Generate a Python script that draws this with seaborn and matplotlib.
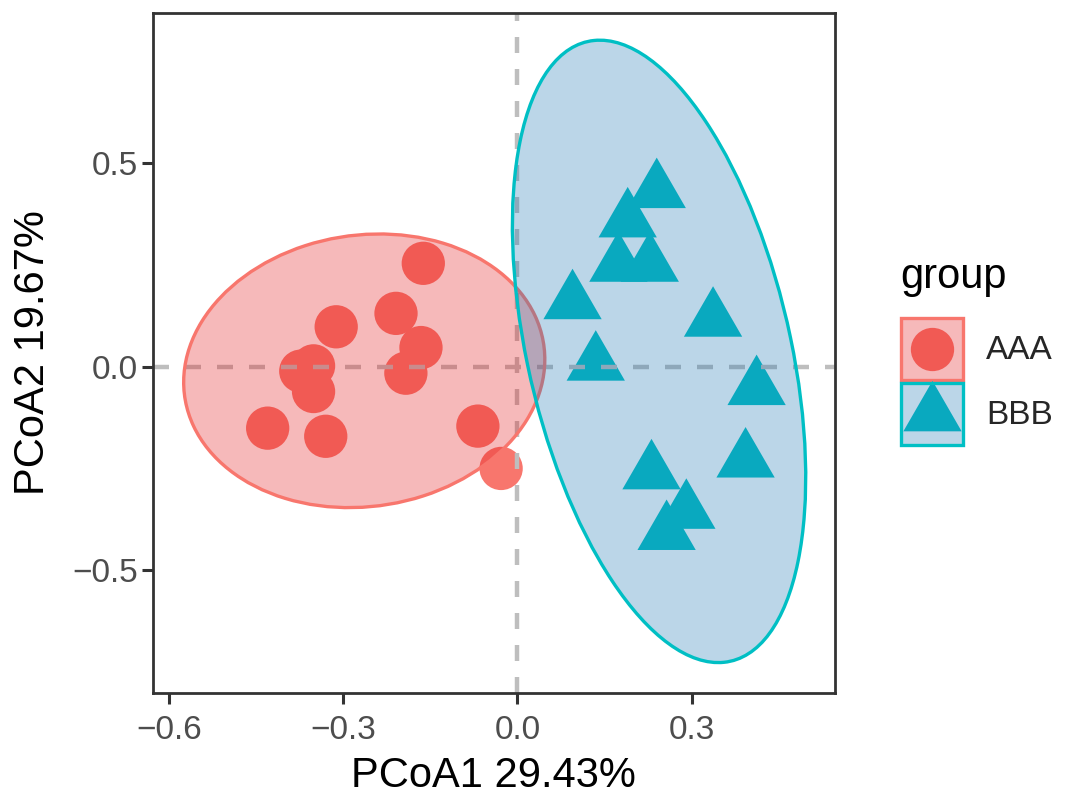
import numpy as np
import pandas as pd
import matplotlib
matplotlib.use("Agg")
import matplotlib.pyplot as plt
import seaborn as sns
from matplotlib.patches import Ellipse, Rectangle
from matplotlib.lines import Line2D
from matplotlib.legend_handler import HandlerBase

# ---------------- data ----------------
groups = ["AAA", "BBB"]

aaa_x = [-0.162, -0.209, -0.312, -0.166, -0.351, -0.373, -0.192, -0.351, -0.430, -0.330, -0.068, -0.028]
aaa_y = [0.254, 0.131, 0.098, 0.047, 0.002, -0.011, -0.016, -0.061, -0.151, -0.171, -0.146, -0.250]

bbb_x = [0.240, 0.190, 0.174, 0.228, 0.095, 0.337, 0.135, 0.412, 0.393, 0.231, 0.291, 0.257]
bbb_y = [0.431, 0.359, 0.250, 0.250, 0.158, 0.115, 0.007, -0.053, -0.231, -0.260, -0.357, -0.409]

# 95% ellipse (stat_ellipse) shape: centre and scaled covariance per group
ell_cx = [-0.2637, 0.244]
ell_cy = [-0.0101, 0.0376]
ell_sxx = [0.0967, 0.0638]
ell_syy = [0.1130, 0.5846]
ell_sxy = [0.0087, -0.078]

x_ticks = [-0.6, -0.3, 0.0, 0.3]
y_ticks = [-0.5, 0.0, 0.5]
x_label = "PCoA1 29.43%"
y_label = "PCoA2 19.67%"
legend_title = "group"

point_colors = {"AAA": "#F8766D", "BBB": "#00BFC4"}
fill_colors = {"AAA": "#E31A1C", "BBB": "#1F78B4"}
fill_alpha = 0.3

# ---------------- styling ----------------
sns.set_theme(style="white")
plt.rcParams["font.family"] = ["Liberation Sans", "DejaVu Sans"]
plt.rcParams["axes.unicode_minus"] = True

W, H = 1080, 808
fig = plt.figure(figsize=(W / 100, H / 100), dpi=100)
fig.patch.set_facecolor("white")
ax = fig.add_axes([152.7 / W, 1 - 692.7 / H, (835 - 152.7) / W, (692.7 - 13) / H])
ax.set_facecolor("white")

df = pd.DataFrame({
    "x": aaa_x + bbb_x,
    "y": aaa_y + bbb_y,
    "group": ["AAA"] * len(aaa_x) + ["BBB"] * len(bbb_x),
})

tri = [(0.0, 1.0), (-0.8660254, -0.5), (0.8660254, -0.5), (0.0, 1.0)]
markers = {"AAA": "o", "BBB": tri}
sizes = {"AAA": 972, "BBB": 2350}

sns.scatterplot(data=df, x="x", y="y", hue="group", style="group", size="group",
                palette=point_colors, markers=markers, sizes=sizes,
                hue_order=groups, style_order=groups, size_order=groups,
                linewidth=0, edgecolor="none", legend=False, ax=ax, zorder=2)

# dashed reference lines
dash = (0, (3.6, 3.6))
ax.axhline(0, color="#BEBEBE", lw=3.2, ls=dash, zorder=3, dash_capstyle="butt")
ax.axvline(0, color="#BEBEBE", lw=3.2, ls=dash, zorder=3, dash_capstyle="butt")

# ellipses
for i, g in enumerate(groups):
    cov = np.array([[ell_sxx[i], ell_sxy[i]], [ell_sxy[i], ell_syy[i]]])
    vals, vecs = np.linalg.eigh(cov)
    order = np.argsort(vals)[::-1]
    vals, vecs = vals[order], vecs[:, order]
    angle = np.degrees(np.arctan2(vecs[1, 0], vecs[0, 0]))
    e = Ellipse((ell_cx[i], ell_cy[i]), width=2 * np.sqrt(vals[0]), height=2 * np.sqrt(vals[1]),
                angle=angle, facecolor=matplotlib.colors.to_rgba(fill_colors[g], fill_alpha),
                edgecolor=point_colors[g], lw=2.4, zorder=4 + i)
    ax.add_patch(e)

ax.set_xlim(-0.628, 0.547)
ax.set_ylim(-0.801, 0.869)

ax.set_xticks(x_ticks)
ax.set_xticklabels([f"{v:.1f}".replace("-", "\u2212") for v in x_ticks])
ax.set_yticks(y_ticks)
ax.set_yticklabels([f"{v:.1f}".replace("-", "\u2212") for v in y_ticks])
ax.tick_params(axis="both", which="major", length=8.0, width=2.2, color="#333333",
               labelcolor="#4D4D4D", labelsize=24, bottom=True, left=True)
ax.tick_params(axis="x", pad=8.0)
ax.tick_params(axis="y", pad=2.5)
for s in ax.spines.values():
    s.set_visible(True)
    s.set_color("#333333")
    s.set_linewidth(2.0)
    s.set_zorder(10)

ax.set_xlabel(x_label, fontsize=30, color="black", labelpad=7)
ax.set_ylabel(y_label, fontsize=30, color="black", labelpad=14)


# legend: key square (fill + outline) drawn over the marker, like ggplot keys
class Key:
    def __init__(self, g):
        self.g = g


class KeyHandler(HandlerBase):
    def create_artists(self, legend, orig_handle, xdescent, ydescent, width, height, fontsize, trans):
        g = orig_handle.g
        x0, y0 = -xdescent, -ydescent
        inset = 1.2
        pt = Line2D([x0 + width / 2], [y0 + height / 2], ls="none", marker=markers[g],
                    markersize=np.sqrt(sizes[g]), markerfacecolor=point_colors[g],
                    markeredgewidth=0, transform=trans)
        rect = Rectangle((x0 + inset, y0 + inset), width - 2 * inset, height - 2 * inset,
                         facecolor=matplotlib.colors.to_rgba(fill_colors[g], fill_alpha),
                         edgecolor=point_colors[g], lw=2.4, transform=trans)
        return [pt, rect]


leg = fig.legend([Key(g) for g in groups], groups, handler_map={Key: KeyHandler()},
                 loc="upper left", bbox_to_anchor=(899 / W, 1 - 316.7 / H),
                 bbox_transform=fig.transFigure, frameon=False, fontsize=24,
                 handlelength=1.98, handleheight=2.623, labelspacing=0.0,
                 handletextpad=0.63, borderpad=0, borderaxespad=0)
fig.text(900 / W, 1 - 288 / H, legend_title, fontsize=30, color="black", va="baseline", ha="left")

fig.savefig("out.png", dpi=100, facecolor="white")
